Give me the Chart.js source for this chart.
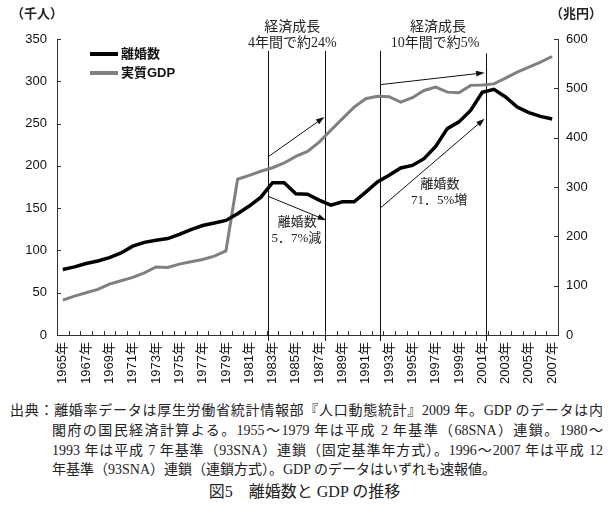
<!DOCTYPE html>
<html lang="ja">
<head>
<meta charset="utf-8">
<script src="https://cdn.jsdelivr.net/npm/chart.js@4.4.1/dist/chart.umd.min.js"></script>
<style>
  body { margin: 0; background: #fff; }
  #wrap { position: relative; width: 609px; height: 517px; }
  canvas { display: block; }
  .note { position: absolute; font-family: "Liberation Serif", "Noto Sans CJK JP", serif; font-size: 14px; color: #222; line-height: 20px; white-space: nowrap; }
  .just { text-align: justify; text-align-last: justify; }
</style>
</head>
<body>
<div id="wrap">
  <canvas id="chart" width="609" height="400"></canvas>
  <div class="note just" style="left:10px; top:401px; width:593px;">出典：離婚率データは厚生労働省統計情報部『人口動態統計』2009 年。GDP のデータは内</div>
  <div class="note just" style="left:52px; top:421px; width:551px;">閣府の国民経済計算よる。1955～1979 年は平成 2 年基準（68SNA）連鎖。1980～</div>
  <div class="note just" style="left:52px; top:441px; width:551px;">1993 年は平成 7 年基準（93SNA）連鎖（固定基準年方式）。1996～2007 年は平成 12</div>
  <div class="note" style="left:52px; top:460px;">年基準（93SNA）連鎖（連鎖方式）。GDP のデータはいずれも速報値。</div>
  <div class="note" style="left:0; top:482px; width:609px; text-align:center; font-size:16px;">図5　離婚数と GDP の推移</div>
</div>
<script>
const years = ["1965年","1966年","1967年","1968年","1969年","1970年","1971年","1972年","1973年","1974年",
  "1975年","1976年","1977年","1978年","1979年","1980年","1981年","1982年","1983年","1984年",
  "1985年","1986年","1987年","1988年","1989年","1990年","1991年","1992年","1993年","1994年",
  "1995年","1996年","1997年","1998年","1999年","2000年","2001年","2002年","2003年","2004年",
  "2005年","2006年","2007年"];

// 離婚数（千人）
const divorces = [77.5, 80.5, 84.5, 87.5, 91.5, 97, 105, 109.5, 112, 114,
  119, 124.5, 129.5, 132.5, 135.5, 143.5, 152.5, 163, 180, 180,
  167, 166.5, 159.5, 153.5, 157.5, 157.5, 169, 181, 189, 197.5,
  200.5, 208.5, 223, 244, 252, 265.5, 287, 290.5, 281.5, 269.5,
  263, 258.5, 255.5];

// 実質GDP（兆円）
const gdp = [70.8, 78.9, 85.6, 92.4, 103, 110, 116.7, 126, 138, 137,
  143.7, 148.4, 153.2, 160, 170.6, 315.7, 323.7, 332, 339, 348.7,
  362, 372, 391, 415, 438.5, 462, 479, 484, 483, 472,
  481, 495.7, 502.4, 492.3, 491, 506, 507, 509, 520.6, 532.8,
  543, 553, 564.5];

const leftTicks = [0, 50, 100, 150, 200, 250, 300, 350];
const rightTicks = [0, 100, 200, 300, 400, 500, 600];

// annotation positions in data units (year, left-axis value)
const periodLines = [[1982.58, 336], [1987.52, 336], [1992.24, 336], [2001.35, 333]];
const arrows = [
  [1982.6, 210.5, 1987.45, 257.7],
  [1982.6, 164.1, 1987.6, 135.8],
  [1992.24, 296, 2001.2, 310.1],
  [1992.24, 150, 2001.2, 255.8]
];
const notes = [
  ["経済成長", 1984.7, 363.6],
  ["4年間で約24%", 1984.7, 344.7],
  ["経済成長", 1997.2, 363.6],
  ["10年間で約5%", 1996.96, 344.7],
  ["離婚数", 1985.13, 132.6],
  ["5．7%減", 1985.04, 114.2],
  ["離婚数", 1997.38, 178.3],
  ["71．5%増", 1997.3, 158.5]
];

const sans = "'Liberation Sans', Arial, 'Noto Sans CJK JP', sans-serif";
const serif = "'Liberation Serif', 'Noto Sans CJK JP', serif";

const extras = {
  id: "extras",
  beforeDatasetsDraw(chart) {
    const ctx = chart.ctx;
    const x = chart.scales.x, y = chart.scales.y;
    const step = x.getPixelForValue(1) - x.getPixelForValue(0);
    const px = yr => x.getPixelForValue(0) + (yr - 1965) * step;
    ctx.save();
    ctx.strokeStyle = "#111";
    ctx.lineWidth = 1;
    periodLines.forEach(([yr, top]) => {
      const xx = Math.round(px(yr)) + 0.5;
      ctx.beginPath();
      ctx.moveTo(xx, y.getPixelForValue(top));
      ctx.lineTo(xx, y.getPixelForValue(-7));
      ctx.stroke();
    });
    ctx.restore();
  },
  afterDraw(chart) {
    const ctx = chart.ctx;
    const {x, y, y2} = chart.scales;
    const area = chart.chartArea;
    const step = x.getPixelForValue(1) - x.getPixelForValue(0);
    const px = yr => x.getPixelForValue(0) + (yr - 1965) * step;
    ctx.save();
    ctx.strokeStyle = "#333";
    ctx.lineWidth = 1;
    // inward tick marks
    for (let k = 1; k < years.length; k++) {
      const xx = Math.round(x.getPixelForValue(k) - step / 2) + 0.5;
      ctx.beginPath();
      ctx.moveTo(xx, area.bottom);
      ctx.lineTo(xx, area.bottom - 4);
      ctx.stroke();
    }
    leftTicks.forEach(v => {
      const yy = Math.round(y.getPixelForValue(v)) + 0.5;
      ctx.beginPath();
      ctx.moveTo(area.left, yy);
      ctx.lineTo(area.left + 4, yy);
      ctx.stroke();
    });
    rightTicks.forEach(v => {
      const yy = Math.round(y2.getPixelForValue(v)) + 0.5;
      ctx.beginPath();
      ctx.moveTo(area.right, yy);
      ctx.lineTo(area.right - 4, yy);
      ctx.stroke();
    });

    // arrows
    ctx.strokeStyle = "#111";
    ctx.fillStyle = "#111";
    arrows.forEach(([x1, v1, x2, v2]) => {
      const ax = px(x1), ay = y.getPixelForValue(v1);
      const bx = px(x2), by = y.getPixelForValue(v2);
      const ang = Math.atan2(by - ay, bx - ax);
      ctx.beginPath();
      ctx.moveTo(ax, ay);
      ctx.lineTo(bx - 6 * Math.cos(ang), by - 6 * Math.sin(ang));
      ctx.stroke();
      ctx.beginPath();
      ctx.moveTo(bx, by);
      ctx.lineTo(bx - 9 * Math.cos(ang - 0.33), by - 9 * Math.sin(ang - 0.33));
      ctx.lineTo(bx - 9 * Math.cos(ang + 0.33), by - 9 * Math.sin(ang + 0.33));
      ctx.closePath();
      ctx.fill();
    });

    // annotation texts
    ctx.fillStyle = "#222";
    ctx.textAlign = "center";
    ctx.textBaseline = "middle";
    notes.forEach(([t, yr, v], i) => {
      ctx.font = (i < 4 ? "14px " : "13px ") + serif;
      ctx.fillText(t, px(yr), y.getPixelForValue(v));
    });

    // legend
    const items = chart.data.datasets;
    ctx.textAlign = "left";
    ctx.font = "bold 13px " + sans;
    items.forEach((ds, i) => {
      const ly = area.top + 15 + i * 19;
      ctx.strokeStyle = ds.borderColor;
      ctx.lineWidth = 4;
      ctx.beginPath();
      ctx.moveTo(area.left + 33, ly);
      ctx.lineTo(area.left + 61, ly);
      ctx.stroke();
      ctx.fillStyle = "#111";
      ctx.fillText(ds.label, area.left + 64, ly);
    });

    // units
    ctx.font = "bold 13px " + sans;
    ctx.fillStyle = "#222";
    ctx.textAlign = "left";
    ctx.fillText("（千人）", 11, 14);
    ctx.textAlign = "right";
    ctx.fillText("（兆円）", 602, 14);
    ctx.restore();
  }
};

new Chart(document.getElementById("chart"), {
  type: "line",
  data: {
    labels: years,
    datasets: [
      {
        label: "離婚数",
        data: divorces,
        yAxisID: "y",
        borderColor: "#000000",
        borderWidth: 3.5,
        pointRadius: 0,
        tension: 0,
        order: 1
      },
      {
        label: "実質GDP",
        data: gdp,
        yAxisID: "y2",
        borderColor: "#808080",
        borderWidth: 3,
        pointRadius: 0,
        tension: 0,
        order: 2
      }
    ]
  },
  options: {
    responsive: false,
    animation: false,
    layout: { padding: { top: 39 } },
    plugins: { legend: { display: false }, tooltip: { enabled: false } },
    scales: {
      x: {
        offset: true,
        grid: { display: true, drawOnChartArea: false, drawTicks: false },
        border: { display: true, color: "#333", width: 1 },
        ticks: {
          autoSkip: false,
          minRotation: 90,
          maxRotation: 90,
          padding: 7,
          color: "#111",
          font: { family: sans, size: 13 },
          callback: (v, i) => (i % 2 === 0 ? years[i] : "")
        },
        afterFit: s => { s.height = 65; }
      },
      y: {
        position: "left",
        min: 0,
        max: 350,
        grid: { display: true, drawOnChartArea: false, drawTicks: false },
        border: { display: true, color: "#333", width: 1 },
        ticks: { stepSize: 50, padding: 10, color: "#111", font: { family: sans, size: 13 } },
        afterFit: s => { s.width = 57; }
      },
      y2: {
        position: "right",
        min: 0,
        max: 600,
        grid: { display: true, drawOnChartArea: false, drawTicks: false },
        border: { display: true, color: "#333", width: 1 },
        ticks: { stepSize: 100, padding: 8, color: "#111", font: { family: sans, size: 13 } },
        afterFit: s => { s.width = 51; }
      }
    }
  },
  plugins: [extras]
});
</script>
</body>
</html>
